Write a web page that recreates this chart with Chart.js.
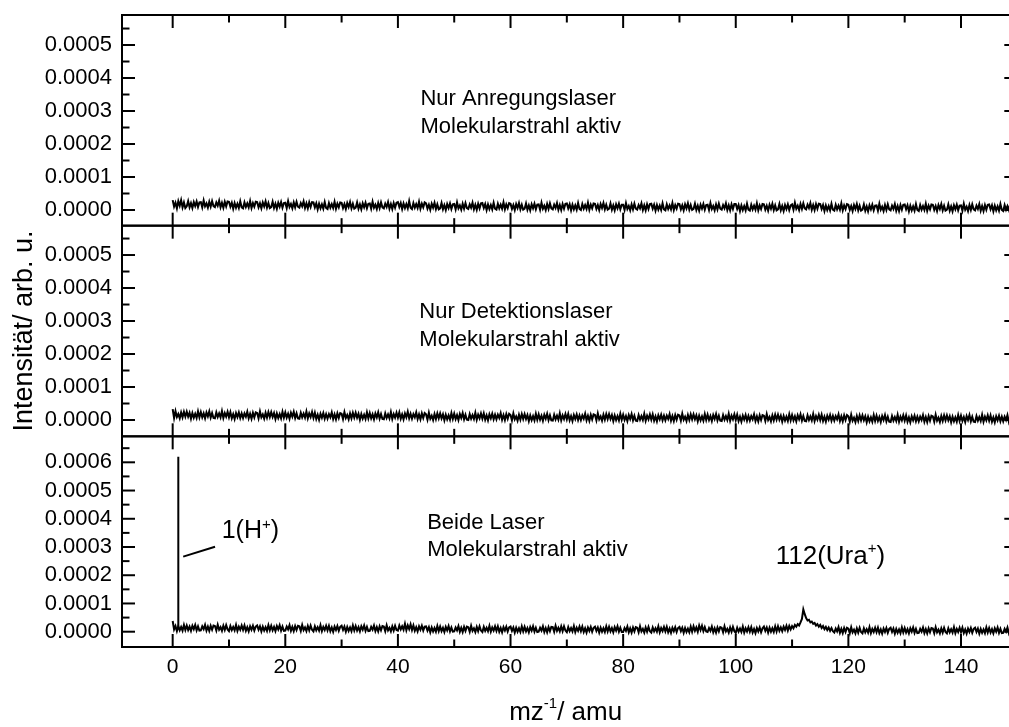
<!DOCTYPE html>
<html>
<head>
<meta charset="utf-8">
<script src="https://cdn.jsdelivr.net/npm/chart.js@4.4.1/dist/chart.umd.min.js"></script>
<style>
html,body{margin:0;padding:0;overflow:hidden;background:#fff;width:1009px;height:727px;}
canvas{display:block;}
</style>
</head>
<body>
<canvas id="c" width="1030" height="727"></canvas>
<script>
// ---------- DATA (intensities in units of 1e-6 arb. u., sampled every 0.25 amu from 0 to 150) ----------
const mzStart = 0;
const mzStep = 0.25;

const topPanelValues = [
 30,10,22,5,27,13,30,8,23,6,
 11,27,8,21,6,24,12,26,9,23,
 24,8,29,11,20,7,25,10,27,12,
 9,23,13,28,8,22,7,25,11,26,
 25,10,22,4,21,7,19,6,26,8,
 5,23,9,20,8,27,6,21,10,25,
 24,8,20,5,23,11,26,7,21,6,
 9,25,6,19,4,22,10,24,7,21,
 22,6,27,9,18,5,23,8,25,10,
 7,21,11,26,6,20,5,23,9,24,
 23,8,20,2,19,5,17,4,24,6,
 3,21,7,18,6,25,4,19,8,23,
 22,6,18,3,21,9,24,5,19,4,
 7,23,4,17,2,20,8,22,5,19,
 20,4,25,7,16,3,21,6,23,8,
 5,19,9,24,4,18,3,21,7,22,
 24,9,21,3,20,6,18,5,27,7,
 3,21,7,18,6,25,4,19,8,23,
 20,4,16,1,19,7,22,3,17,2,
 5,21,2,15,0,18,6,20,3,17,
 18,2,23,5,14,1,19,4,21,6,
 3,17,7,22,2,16,1,19,5,20,
 21,6,18,0,17,3,15,2,22,4,
 1,19,5,16,4,23,2,17,6,21,
 19,3,15,0,18,6,21,2,16,1,
 4,20,1,14,-1,17,5,19,2,16,
 17,1,22,4,13,0,18,3,20,5,
 2,16,6,21,1,15,0,18,4,19,
 20,5,17,-1,16,2,14,1,21,3,
 0,18,4,15,3,22,1,16,5,20,
 19,3,15,0,18,6,21,2,16,1,
 4,20,1,14,-1,17,5,19,2,16,
 16,0,21,3,12,-1,17,2,19,4,
 1,15,5,20,0,14,-1,17,3,18,
 19,4,16,-2,15,1,13,0,20,2,
 -1,17,3,14,2,21,0,15,4,19,
 18,2,14,-1,17,5,20,1,15,0,
 3,19,0,13,-2,16,4,18,1,15,
 16,0,21,3,12,-1,17,2,19,4,
 1,15,5,20,0,14,-1,17,3,18,
 18,3,15,-3,14,0,12,-1,19,1,
 -2,16,2,13,1,20,-1,14,3,18,
 17,1,13,-2,16,4,19,0,14,-1,
 2,18,-1,12,-3,15,3,17,0,14,
 17,1,22,4,13,0,18,3,20,5,
 2,16,6,21,1,15,0,18,4,19,
 18,3,15,-3,14,0,12,-1,19,1,
 -2,16,2,13,1,20,-1,14,3,18,
 16,0,12,-3,15,3,18,-1,13,-2,
 1,17,-2,11,-4,14,2,16,-1,13,
 14,-2,19,1,10,-3,15,0,17,2,
 -1,13,3,18,-2,12,-3,15,1,16,
 17,2,14,-4,13,-1,11,-2,18,0,
 -3,15,1,12,0,19,-2,13,2,17,
 16,0,12,-3,15,3,18,-1,13,-2,
 1,17,-2,11,-4,14,2,16,-1,13,
 14,-2,19,1,10,-3,15,0,17,2,
 -1,13,3,18,-2,12,-3,15,1,16,
 17,2,14,-4,13,-1,11,-2,18,0,
 -3,15,1,12,0,19,-2,13,2,17,
 8
];

const middlePanelValues = [
 33,6,27,9,18,5,23,8,25,10,
 25,10,22,4,21,7,19,6,26,8,
 24,8,20,5,23,11,26,7,21,6,
 5,23,9,20,8,27,6,21,10,25,
 8,24,5,18,3,21,9,23,6,20,
 6,20,10,25,5,19,4,22,8,23,
 21,5,26,8,17,4,22,7,24,9,
 24,9,21,3,20,6,18,5,25,7,
 23,7,19,4,22,10,25,6,20,5,
 4,22,8,19,7,26,5,20,9,24,
 6,22,3,16,1,19,7,21,4,18,
 4,18,8,23,3,17,2,20,6,21,
 19,3,24,6,15,2,20,5,22,7,
 22,7,19,1,18,4,16,3,23,5,
 21,5,17,2,20,8,23,4,18,3,
 2,20,6,17,5,24,3,18,7,22,
 7,23,4,17,2,20,8,25,5,19,
 4,18,8,23,3,17,2,20,6,21,
 17,1,22,4,13,0,18,3,20,5,
 20,5,17,-1,16,2,14,1,21,3,
 19,3,15,0,18,6,21,2,16,1,
 0,18,4,15,3,22,1,16,5,20,
 4,20,1,14,-1,17,5,19,2,16,
 2,16,6,21,1,15,0,18,4,19,
 15,-1,20,2,11,-2,16,1,18,3,
 18,3,15,-3,14,0,12,-1,19,1,
 17,1,13,-2,16,4,19,0,14,-1,
 -2,16,2,13,1,20,-1,14,3,18,
 2,18,-1,12,-3,15,3,17,0,14,
 0,14,4,19,-1,13,-2,16,2,17,
 15,-1,20,2,11,-2,16,1,18,3,
 18,3,15,-3,14,0,12,-1,19,1,
 16,0,12,-3,15,3,18,-1,13,-2,
 -3,15,1,12,0,19,-2,13,2,17,
 1,17,-2,11,-4,14,2,16,-1,13,
 -1,13,3,18,-2,12,-3,15,1,16,
 14,-2,19,1,10,-3,15,0,17,2,
 17,2,14,-4,13,-1,11,-2,18,0,
 16,0,12,-3,15,3,18,-1,13,-2,
 -3,15,1,12,0,19,-2,13,2,17,
 0,16,-3,10,-5,13,1,15,-2,12,
 -2,12,2,17,-3,11,-4,14,0,15,
 13,-3,18,0,9,-4,14,-1,16,1,
 16,1,13,-5,12,-2,10,-3,17,-1,
 15,-1,11,-4,14,2,17,-2,12,-3,
 -4,14,0,11,-1,18,-3,12,1,16,
 0,16,-3,10,-5,13,1,15,-2,12,
 -2,12,2,17,-3,11,-4,14,0,15,
 11,-5,16,-2,7,-6,12,-3,14,-1,
 14,-1,11,-7,10,-4,8,-5,15,-3,
 13,-3,9,-6,12,0,15,-4,10,-5,
 -6,12,-2,9,-3,16,-5,10,-1,14,
 -2,14,-5,8,-7,11,-1,13,-4,10,
 -4,10,0,15,-5,9,-6,12,-2,13,
 11,-5,16,-2,7,-6,12,-3,14,-1,
 14,-1,11,-7,10,-4,8,-5,15,-3,
 13,-3,9,-6,12,0,15,-4,10,-5,
 -6,12,-2,9,-3,16,-5,10,-1,14,
 -2,14,-5,8,-7,11,-1,13,-4,10,
 -4,10,0,15,-5,9,-6,12,-2,13,
 5
];

const bottomPanelValues = [
 38,8,20,2,19,5,17,4,24,6,
 22,6,18,3,21,9,24,5,19,4,
 5,19,9,24,4,18,3,21,7,22,
 20,4,25,7,16,3,21,6,23,8,
 2,20,6,17,5,24,3,18,7,22,
 6,22,3,16,1,19,7,21,4,18,
 22,7,19,1,18,4,16,3,23,5,
 21,5,17,2,20,8,23,4,18,3,
 4,18,8,23,3,17,2,20,6,21,
 19,3,24,6,15,2,20,5,22,7,
 1,19,5,16,4,23,2,17,6,21,
 5,21,2,15,0,18,6,20,3,17,
 21,6,18,0,17,3,15,2,22,4,
 20,4,16,1,19,7,22,3,17,2,
 3,17,7,22,2,16,1,19,5,20,
 18,2,23,5,14,1,19,4,21,6,
 4,22,8,19,7,28,5,22,9,26,
 6,22,3,16,1,19,7,21,4,18,
 19,4,16,-2,15,1,13,0,20,2,
 18,2,14,-1,17,5,20,1,15,0,
 1,15,5,20,0,14,-1,17,3,18,
 16,0,21,3,12,-1,17,2,19,4,
 -1,17,3,14,2,21,0,15,4,19,
 3,19,0,13,-2,16,4,18,1,15,
 18,3,15,-3,14,0,12,-1,19,1,
 17,1,13,-2,16,4,19,0,14,-1,
 0,14,4,19,-1,13,-2,16,2,17,
 16,0,21,3,14,1,19,2,19,4,
 -2,16,2,13,1,20,-1,14,3,18,
 2,18,-1,12,-3,15,3,17,0,14,
 18,3,15,-3,14,0,12,-1,19,1,
 17,1,13,-2,16,4,19,0,14,-1,
 -1,13,3,18,-2,12,-3,15,1,16,
 14,-2,19,1,10,-3,15,0,17,2,
 -3,15,1,12,0,19,-2,13,2,17,
 1,17,-2,11,-4,14,2,16,-1,13,
 17,2,14,-4,13,-1,11,-2,18,0,
 19,3,15,0,22,6,21,2,16,1,
 -1,13,3,18,-2,12,-3,15,1,16,
 14,-2,19,1,10,-3,15,0,17,2,
 -4,14,0,11,-1,18,-3,12,1,16,
 0,16,-3,10,-5,13,1,15,-2,12,
 18,3,15,-3,14,0,12,-1,19,1,
 19,3,15,2,18,6,21,4,20,8,
 20,12,24,18,27,22,33,45,79,62,
 48,40,42,33,36,28,31,22,27,18,
 24,13,20,9,17,6,15,3,13,2,
 -3,11,1,16,-4,10,-5,13,-1,14,
 11,-5,16,-2,7,-6,12,-3,14,-1,
 -6,12,-2,9,-3,16,-5,10,-1,14,
 -2,14,-5,8,-7,11,-1,13,-4,10,
 14,-1,11,-7,10,-4,8,-5,15,-3,
 13,-3,9,-6,12,0,15,-4,10,-5,
 -4,10,0,15,-5,9,-6,12,-2,13,
 11,-5,16,-2,7,-6,12,-3,14,-1,
 -6,12,-2,9,-3,16,-5,10,-1,14,
 -2,14,-5,8,-7,11,-1,13,-4,10,
 14,-1,11,-7,10,-4,8,-5,15,-3,
 13,-3,9,-6,12,0,15,-4,10,-5,
 -4,10,0,15,-5,9,-6,12,-2,13,
 4
];

// H+ peak at m/z = 1 (narrow line)
const hPeakMz = [1.0, 1.0];
const hPeakValues = [12, 620];

// tick labels
const xTickValues = [0, 20, 40, 60, 80, 100, 120, 140];
const xMinorValues = [10, 30, 50, 70, 90, 110, 130];
const topTickValues = [0, 0.0001, 0.0002, 0.0003, 0.0004, 0.0005];
const middleTickValues = [0, 0.0001, 0.0002, 0.0003, 0.0004, 0.0005];
const bottomTickValues = [0, 0.0001, 0.0002, 0.0003, 0.0004, 0.0005, 0.0006];

const xTitle = ['mz', '-1', '/ amu'];
const yTitle = 'Intensität/ arb. u.';
const panelTexts = [
  ['Nur Anregungslaser', 'Molekularstrahl aktiv'],
  ['Nur Detektionslaser', 'Molekularstrahl aktiv'],
  ['Beide Laser', 'Molekularstrahl aktiv']
];
// ---------- END DATA ----------

const toPts = vals => vals.map((v, i) => ({x: mzStart + i * mzStep, y: v * 1e-6}));
const FONT = "'Liberation Sans', Arial, sans-serif";
Chart.defaults.color = '#000';
Chart.defaults.font.family = FONT;

const lineDs = (vals, axis, bw) => ({
  data: vals, yAxisID: axis, showLine: true, borderColor: '#000', borderWidth: bw || 2,
  pointRadius: 0, pointHoverRadius: 0, tension: 0, fill: false
});

function yAxis(min, max, ticksArr) {
  return {
    type: 'linear', position: 'left', stack: 'panels', stackWeight: 1,
    min: min, max: max,
    grid: {display: false, drawTicks: false},
    border: {display: false},
    ticks: {font: {size: 22, family: FONT}, color: '#000', padding: 10, autoSkip: false,
            callback: v => Number(v).toFixed(4)},
    afterBuildTicks: s => { s.ticks = ticksArr.map(v => ({value: v})); },
    afterFit: s => { s.width = 122; s.paddingTop = 0; s.paddingBottom = 0; }
  };
}

function drawParts(ctx, parts, x, y) {
  let cx = x;
  for (const p of parts) {
    ctx.font = p.size + 'px ' + FONT;
    ctx.fillText(p.t, cx, y - (p.raise || 0));
    cx += ctx.measureText(p.t).width;
  }
  return cx;
}

const framePlugin = {
  id: 'frame',
  afterDraw(chart) {
    const ctx = chart.ctx;
    const xs = chart.scales.x;
    const L = chart.chartArea.left, R = chart.chartArea.right;
    const panels = [
      {s: chart.scales.yTop, t: topTickValues},
      {s: chart.scales.yMid, t: middleTickValues},
      {s: chart.scales.yBot, t: bottomTickValues}
    ];
    ctx.save();
    ctx.strokeStyle = '#000';
    ctx.lineWidth = 2;
    ctx.lineCap = 'butt';
    const seg = (x1, y1, x2, y2) => { ctx.beginPath(); ctx.moveTo(x1, y1); ctx.lineTo(x2, y2); ctx.stroke(); };
    const MAJ = 13, MIN = 7.5;
    panels.forEach(p => {
      const s = p.s, T = s.top, B = s.bottom;
      ctx.strokeRect(L, T, R - L, B - T);
      p.t.forEach(v => {
        const y = s.getPixelForValue(v);
        seg(L, y, L + MAJ, y);
        seg(R, y, R - MAJ, y);
        const ym = s.getPixelForValue(v + 0.00005);
        if (ym > T + 1) { seg(L, ym, L + MIN, ym); seg(R, ym, R - MIN, ym); }
      });
      xTickValues.forEach(v => {
        const x = xs.getPixelForValue(v);
        seg(x, T, x, T + MAJ); seg(x, B, x, B - MAJ);
      });
      xMinorValues.forEach(v => {
        const x = xs.getPixelForValue(v);
        seg(x, T, x, T + MIN); seg(x, B, x, B - MIN);
      });
    });

    ctx.fillStyle = '#000';
    ctx.textAlign = 'left';
    ctx.textBaseline = 'alphabetic';
    ctx.font = '22px ' + FONT;
    const sT = chart.scales.yTop, sM = chart.scales.yMid, sB = chart.scales.yBot;
    const tx = (mz) => xs.getPixelForValue(mz);
    ctx.fillText(panelTexts[0][0], tx(44.0), sT.getPixelForValue(0.000318));
    ctx.fillText(panelTexts[0][1], tx(44.0), sT.getPixelForValue(0.000233));
    ctx.fillText(panelTexts[1][0], tx(43.8), sM.getPixelForValue(0.000310));
    ctx.fillText(panelTexts[1][1], tx(43.8), sM.getPixelForValue(0.000225));
    ctx.fillText(panelTexts[2][0], tx(45.2), sB.getPixelForValue(0.000364));
    ctx.fillText(panelTexts[2][1], tx(45.2), sB.getPixelForValue(0.000268));

    drawParts(ctx, [{t: '1(H', size: 25}, {t: '+', size: 15, raise: 9}, {t: ')', size: 25}],
      tx(8.7), sB.getPixelForValue(0.000331));
    drawParts(ctx, [{t: '112(Ura', size: 26}, {t: '+', size: 15, raise: 11}, {t: ')', size: 26}],
      tx(107.1), sB.getPixelForValue(0.000240));
    seg(tx(1.87), sB.getPixelForValue(0.000266), tx(7.52), sB.getPixelForValue(0.000301));

    const parts = [{t: xTitle[0], size: 26}, {t: xTitle[1], size: 15, raise: 12}, {t: xTitle[2], size: 26}];
    let w = 0;
    parts.forEach(p => { ctx.font = p.size + 'px ' + FONT; w += ctx.measureText(p.t).width; });
    drawParts(ctx, parts, (L + R) / 2 - w / 2 - 4, 720);

    ctx.save();
    ctx.translate(32, (sT.top + sB.bottom) / 2);
    ctx.rotate(-Math.PI / 2);
    ctx.textAlign = 'center';
    ctx.font = '27px ' + FONT;
    ctx.fillText(yTitle, 0, 0);
    ctx.restore();
    ctx.restore();
  }
};

new Chart(document.getElementById('c'), {
  type: 'scatter',
  data: {
    datasets: [
      lineDs(toPts(topPanelValues), 'yTop'),
      lineDs(toPts(middlePanelValues), 'yMid'),
      lineDs(toPts(bottomPanelValues), 'yBot'),
      lineDs(hPeakMz.map((m, i) => ({x: m, y: hPeakValues[i] * 1e-6})), 'yBot', 2)
    ]
  },
  options: {
    responsive: false,
    animation: false,
    devicePixelRatio: 1,
    layout: {padding: {left: 0, top: 15, right: 12.7, bottom: 0}},
    plugins: {legend: {display: false}, tooltip: {enabled: false}, title: {display: false}},
    scales: {
      x: {
        type: 'linear', position: 'bottom', min: -9, max: 150,
        grid: {display: false, drawTicks: false},
        border: {display: false},
        ticks: {font: {size: 21, family: FONT}, color: '#000', padding: 8, maxRotation: 0, autoSkip: false},
        afterBuildTicks: s => { s.ticks = xTickValues.map(v => ({value: v})); },
        afterFit: s => { s.height = 80; s.paddingLeft = 0; s.paddingRight = 0; }
      },
      yBot: yAxis(-0.0000542, 0.000692, bottomTickValues),
      yMid: yAxis(-0.0000495, 0.000589, middleTickValues),
      yTop: yAxis(-0.0000475, 0.000591, topTickValues)
    }
  },
  plugins: [framePlugin]
});
</script>
</body>
</html>
